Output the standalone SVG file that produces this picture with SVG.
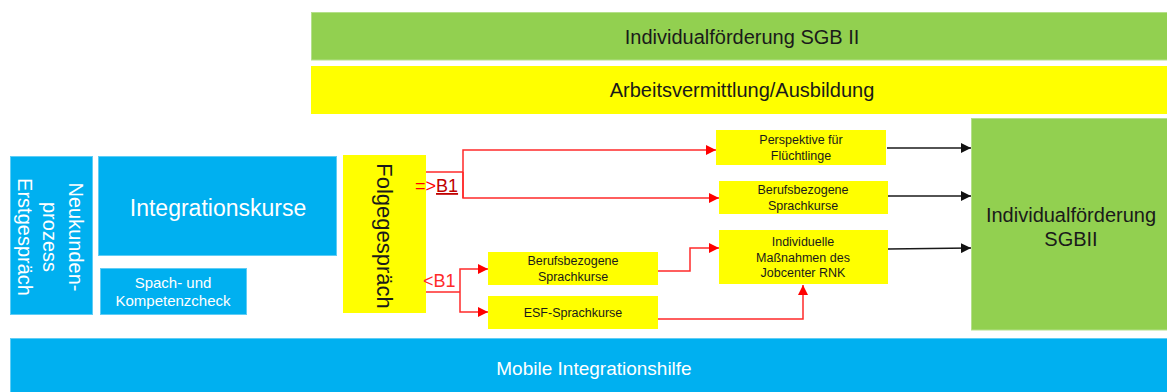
<svg xmlns="http://www.w3.org/2000/svg" width="1167" height="392" viewBox="0 0 1167 392">
<style>
text{font-family:"Liberation Sans",Arial,sans-serif;}
.blue{fill:#00b0f0;stroke:#5fcdf5;stroke-width:1}
.green{fill:#92d050;stroke:#b5e08a;stroke-width:1}
.yel{fill:#ffff00}
.w{fill:#ffffff}
.k{fill:#1a1a1a}
.sm{font-size:12.5px;fill:#1a1a1a;text-anchor:middle}
.red{fill:none;stroke:#ff2a2a;stroke-width:1.5}
.blk{fill:none;stroke:#1a1a1a;stroke-width:1.5}
</style>
<defs>
<marker id="ar" viewBox="0 0 10 10" refX="10" refY="5" markerWidth="10" markerHeight="10" markerUnits="userSpaceOnUse" orient="auto"><path d="M0,0L10,5L0,10z" fill="#ff0000"/></marker>
<marker id="ak" viewBox="0 0 10 10" refX="10" refY="5" markerWidth="10" markerHeight="10" markerUnits="userSpaceOnUse" orient="auto"><path d="M0,0L10,5L0,10z" fill="#111"/></marker>
</defs>
<rect width="1167" height="392" fill="#ffffff"/>
<g id="sgb2-top"><rect class="green" x="311.5" y="12.5" width="860" height="47.5"/><text x="742" y="44" font-size="20" text-anchor="middle" class="k">Individualförderung SGB II</text></g>
<g id="arbeit"><rect class="yel" x="311" y="66" width="856" height="48"/><text x="742" y="97" font-size="20" text-anchor="middle" class="k">Arbeitsvermittlung/Ausbildung</text></g>
<g id="neukunden"><rect class="blue" x="10.5" y="156.5" width="82" height="158"/><text transform="translate(43,237) rotate(90)" font-size="20" text-anchor="middle" class="w"><tspan x="0" y="-26">Neukunden-</tspan><tspan x="0" y="0">prozess</tspan><tspan x="0" y="25">Erstgespräch</tspan></text></g>
<g id="integrationskurse"><rect class="blue" x="98.5" y="156.5" width="238" height="99"/><text x="218" y="216" font-size="23" text-anchor="middle" class="w">Integrationskurse</text></g>
<g id="check"><rect class="blue" x="100.5" y="268.5" width="146" height="46"/><text x="173" y="288" font-size="15" text-anchor="middle" class="w"><tspan x="173">Spach- und</tspan><tspan x="173" dy="18">Kompetenzcheck</tspan></text></g>
<g id="folgegespraech"><rect class="yel" x="343" y="155" width="83" height="158"/><text transform="translate(377,236) rotate(90)" font-size="22" text-anchor="middle" class="k">Folgegespräch</text></g>
<g id="perspektive"><rect class="yel" x="716" y="130" width="170" height="35"/><text class="sm" x="801" y="144"><tspan x="801">Perspektive für</tspan><tspan x="801" dy="15.5">Flüchtlinge</tspan></text></g>
<g id="beruf-r"><rect class="yel" x="719" y="181" width="169" height="33"/><text class="sm" x="803" y="194"><tspan x="803">Berufsbezogene</tspan><tspan x="803" dy="15.5">Sprachkurse</tspan></text></g>
<g id="individuelle"><rect class="yel" x="719" y="230" width="169" height="54"/><text class="sm" x="803" y="246"><tspan x="803">Individuelle</tspan><tspan x="803" dy="15.5">Maßnahmen des</tspan><tspan x="803" dy="15.5">Jobcenter RNK</tspan></text></g>
<g id="beruf-l"><rect class="yel" x="488" y="252" width="170" height="33"/><text class="sm" x="573" y="265"><tspan x="573">Berufsbezogene</tspan><tspan x="573" dy="15.5">Sprachkurse</tspan></text></g>
<g id="esf"><rect class="yel" x="488" y="296" width="170" height="33"/><text class="sm" x="573" y="317">ESF-Sprachkurse</text></g>
<g id="sgb2-right"><rect class="green" x="971.5" y="118.5" width="200" height="211.5"/><text x="1071" y="222" font-size="20" text-anchor="middle" class="k"><tspan x="1071">Individualförderung</tspan><tspan x="1071" dy="24">SGBII</tspan></text></g>
<g id="mobile"><rect class="blue" x="10.5" y="338.5" width="1160" height="56"/><text x="594" y="375" font-size="19" text-anchor="middle" class="w">Mobile Integrationshilfe</text></g>
<g id="connectors">
<path class="red" d="M426,172H463"/>
<path class="red" d="M463,198V150H716" marker-end="url(#ar)"/>
<path class="red" d="M463,172V198H719" marker-end="url(#ar)"/>
<path class="red" d="M426,292H460"/>
<path class="red" d="M460,292V269H488" marker-end="url(#ar)"/>
<path class="red" d="M460,292V312H488" marker-end="url(#ar)"/>
<path class="red" d="M658,271H690V248H719" marker-end="url(#ar)"/>
<path class="red" d="M658,319H803V285" marker-end="url(#ar)"/>
<path class="blk" d="M887,148H971" marker-end="url(#ak)"/>
<path class="blk" d="M888,196H971" marker-end="url(#ak)"/>
<path class="blk" d="M888,249L971,248" marker-end="url(#ak)"/>
<text x="415" y="192" font-size="18" fill="#ff0000"><tspan>=&gt;</tspan><tspan fill="#c00000" text-decoration="underline">B1</tspan></text>
<text x="423" y="287" font-size="18" fill="#ff2a2a">&lt;B1</text>
</g>
</svg>
